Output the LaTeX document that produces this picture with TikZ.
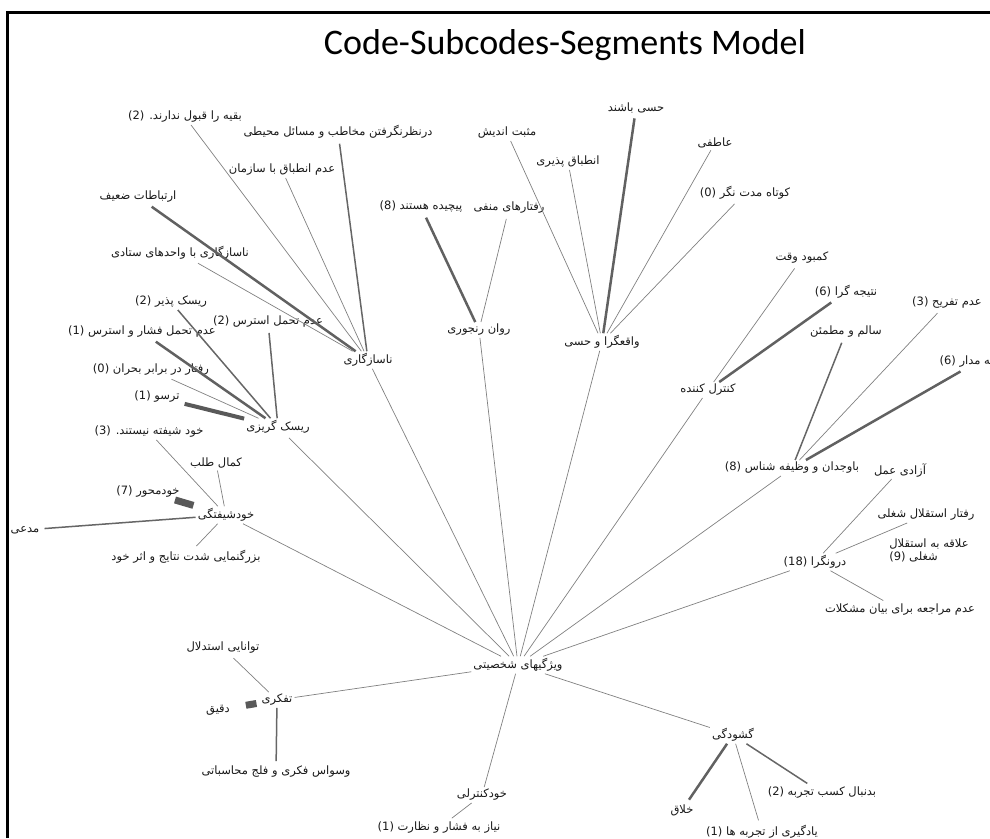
\documentclass[tikz,border=0pt]{standalone}
\usepackage{fontspec}
\setmainfont{DejaVu Sans}
\newfontfamily\fa[Script=Arabic]{DejaVu Sans}
\newfontfamily\ttlfont{Carlito}
\TeXXeTstate=1
\newcommand\fat[1]{\fa\beginR #1\endR}
\newcommand\cnt[1]{\beginL(#1)\endL{}}
\newcommand\dotL{\beginL.\endL{}}

\begin{document}
\begin{tikzpicture}[x=1pt,y=-1pt,
    every node/.style={font=\fa\fontsize{11.5}{13}\selectfont, inner sep=2pt, text=black!90},
    lnk/.style={draw=black!50, line width=0.7pt, shorten <=3pt},
    lnkm/.style={draw=black!60, line width=1.5pt, shorten <=3pt},
    lnkt/.style={draw=black!62, line width=2.5pt, shorten <=3pt},
    lnkx/.style={draw=black!65, line width=4pt, shorten <=3pt},
    stub/.style={draw=black!65, line width=7pt}]
  \useasboundingbox (0,0) rectangle (990,838);
  \draw[line width=3pt] (7,838) -- (7,12) -- (990,12);
  \node[font=\ttlfont\fontsize{36}{40}\selectfont, text=black] (ttl) at (565,45) {Code-Subcodes-Segments Model};

  % core and branches
  \node (core) at (518,665) {\fat{ویژگیهای شخصیتی}};
  \node (ns) at (368,360) {\fat{ناسازگاری}};
  \node (rr) at (479,330) {\fat{روان رنجوری}};
  \node (vh) at (602,342) {\fat{واقعگرا و حسی}};
  \node (kk) at (708,390) {\fat{کنترل کننده}};
  \node (bv) at (792,468) {\fat{باوجدان و وظیفه شناس \cnt{8}}};
  \node (dg) at (815,562) {\fat{درونگرا \cnt{18}}};
  \node (gs) at (733,735) {\fat{گشودگی}};
  \node (kc) at (482,795) {\fat{خودکنترلی}};
  \node (tf) at (277,700) {\fat{تفکری}};
  \node (ks) at (226,515) {\fat{خودشیفتگی}};
  \node (rg) at (278,427) {\fat{ریسک گریزی}};

  % ناسازگاری
  \node (ns1) at (185,117) {\fat{بقیه را قبول ندارند\dotL{} \cnt{2}}};
  \node (ns2) at (338,132) {\fat{درنظرنگرفتن مخاطب و مسائل محیطی}};
  \node (ns3) at (282,170) {\fat{عدم انطباق با سازمان}};
  \node (ns4) at (138,197) {\fat{ارتباطات ضعیف}};
  \node (ns5) at (180,253) {\fat{ناسازگاری با واحدهای ستادی}};

  % روان رنجوری
  \node (rr1) at (421,207) {\fat{پیچیده هستند \cnt{8}}};
  \node (rr2) at (509,208) {\fat{رفتارهای منفی}};

  % واقعگرا و حسی
  \node (vh1) at (507,133) {\fat{مثبت اندیش}};
  \node (vh2) at (568,162) {\fat{انطباق پذیری}};
  \node (vh3) at (636,108) {\fat{حسی باشند}};
  \node (vh4) at (715,143) {\fat{عاطفی}};
  \node (vh5) at (745,193) {\fat{کوتاه مدت نگر \cnt{0}}};

  % کنترل کننده
  \node (kk1) at (802,258) {\fat{کمبود وقت}};
  \node (kk2) at (846,292) {\fat{نتیجه گرا \cnt{6}}};

  % باوجدان و وظیفه شناس
  \node (bv1) at (846,332) {\fat{سالم و مطمئن}};
  \node (bv2) at (947,303) {\fat{عدم تفریح \cnt{3}}};
  \node (bv3) at (977,362) {\fat{وظیفه مدار \cnt{6}}};

  % درونگرا
  \node (dg1) at (900,470) {\fat{آزادی عمل}};
  \node (dg2) at (926,515) {\fat{رفتار استقلال شغلی}};
  \node[align=left] (dg3) at (929,550) {\fat{علاقه به استقلال}\\\fat{شغلی \cnt{9}}};
  \node (dg4) at (900,610) {\fat{عدم مراجعه برای بیان مشکلات}};

  % گشودگی
  \node (gs1) at (682,810) {\fat{خلاق}};
  \node (gs2) at (762,832) {\fat{یادگیری از تجربه ها \cnt{1}}};
  \node (gs3) at (822,793) {\fat{بدنبال کسب تجربه \cnt{2}}};

  % خودکنترلی
  \node (kc1) at (439,828) {\fat{نیاز به فشار و نظارت \cnt{1}}};

  % تفکری
  \node (tf1) at (223,648) {\fat{توانایی استدلال}};
  \node (tf2) at (218,710) {\fat{دقیق}};
  \node (tf3) at (276,772) {\fat{وسواس فکری و فلج محاسباتی}};

  % خودشیفتگی
  \node (ks1) at (149,432) {\fat{خود شیفته نیستند\dotL{} \cnt{3}}};
  \node (ks2) at (216,463) {\fat{کمال طلب}};
  \node (ks3) at (148,492) {\fat{خودمحور \cnt{7}}};
  \node (ks4) at (25,530) {\fat{مدعی}};
  \node (ks5) at (186,557) {\fat{بزرگنمایی شدت نتایج و اثر خود}};

  % ریسک گریزی
  \node (rg1) at (171,302) {\fat{ریسک پذیر \cnt{2}}};
  \node (rg2) at (142,332) {\fat{عدم تحمل فشار و استرس \cnt{1}}};
  \node (rg3) at (151,370) {\fat{رفتار در برابر بحران \cnt{0}}};
  \node (rg4) at (157,397) {\fat{ترسو \cnt{1}}};
  \node (rg5) at (268,322) {\fat{عدم تحمل استرس \cnt{2}}};

  % links
  \draw[lnk] (ns) -- (core) (rr) -- (core) (vh) -- (core) (kk) -- (core)
    (bv) -- (core) (dg) -- (core) (gs) -- (core) (kc) -- (core)
    (tf) -- (core) (ks) -- (core) (rg) -- (core);
  \draw[lnk] (ns1) -- (ns) (ns3) -- (ns) (ns5) -- (ns);
  \draw[lnkm] (ns2) -- (ns);
  \draw[lnkt] (ns4) -- (ns);
  \draw[lnkt] (rr1) -- (rr);
  \draw[lnk] (rr2) -- (rr);
  \draw[lnk] (vh1) -- (vh) (vh2) -- (vh) (vh4) -- (vh) (vh5) -- (vh);
  \draw[lnkt] (vh3) -- (vh);
  \draw[lnk] (kk1) -- (kk);
  \draw[lnkt] (kk2) -- (kk);
  \draw[lnkm] (bv1) -- (bv);
  \draw[lnk] (bv2) -- (bv);
  \draw[lnkt] (bv3) -- (bv);
  \draw[lnk] (dg1) -- (dg) (dg2) -- (dg) (dg4) -- (dg);
  \draw[lnkt] (gs1) -- (gs);
  \draw[lnk] (gs2) -- (gs);
  \draw[lnkm] (gs3) -- (gs);
  \draw[lnk] (kc1) -- (kc);
  \draw[lnk] (tf1) -- (tf);
  \draw[stub, shorten <=14pt, shorten >=3pt] (tf2) -- (tf);
  \draw[lnkm] (tf3) -- (tf);
  \draw[lnk] (ks1) -- (ks) (ks2) -- (ks) (ks5) -- (ks);
  \draw[stub, shorten >=3pt] (ks3) -- (ks);
  \draw[lnkm] (ks4) -- (ks);
  \draw[lnkm] (rg1) -- (rg) (rg5) -- (rg);
  \draw[lnkt] (rg2) -- (rg);
  \draw[lnk] (rg3) -- (rg);
  \draw[lnkx] (rg4) -- (rg);
\end{tikzpicture}
\end{document}
